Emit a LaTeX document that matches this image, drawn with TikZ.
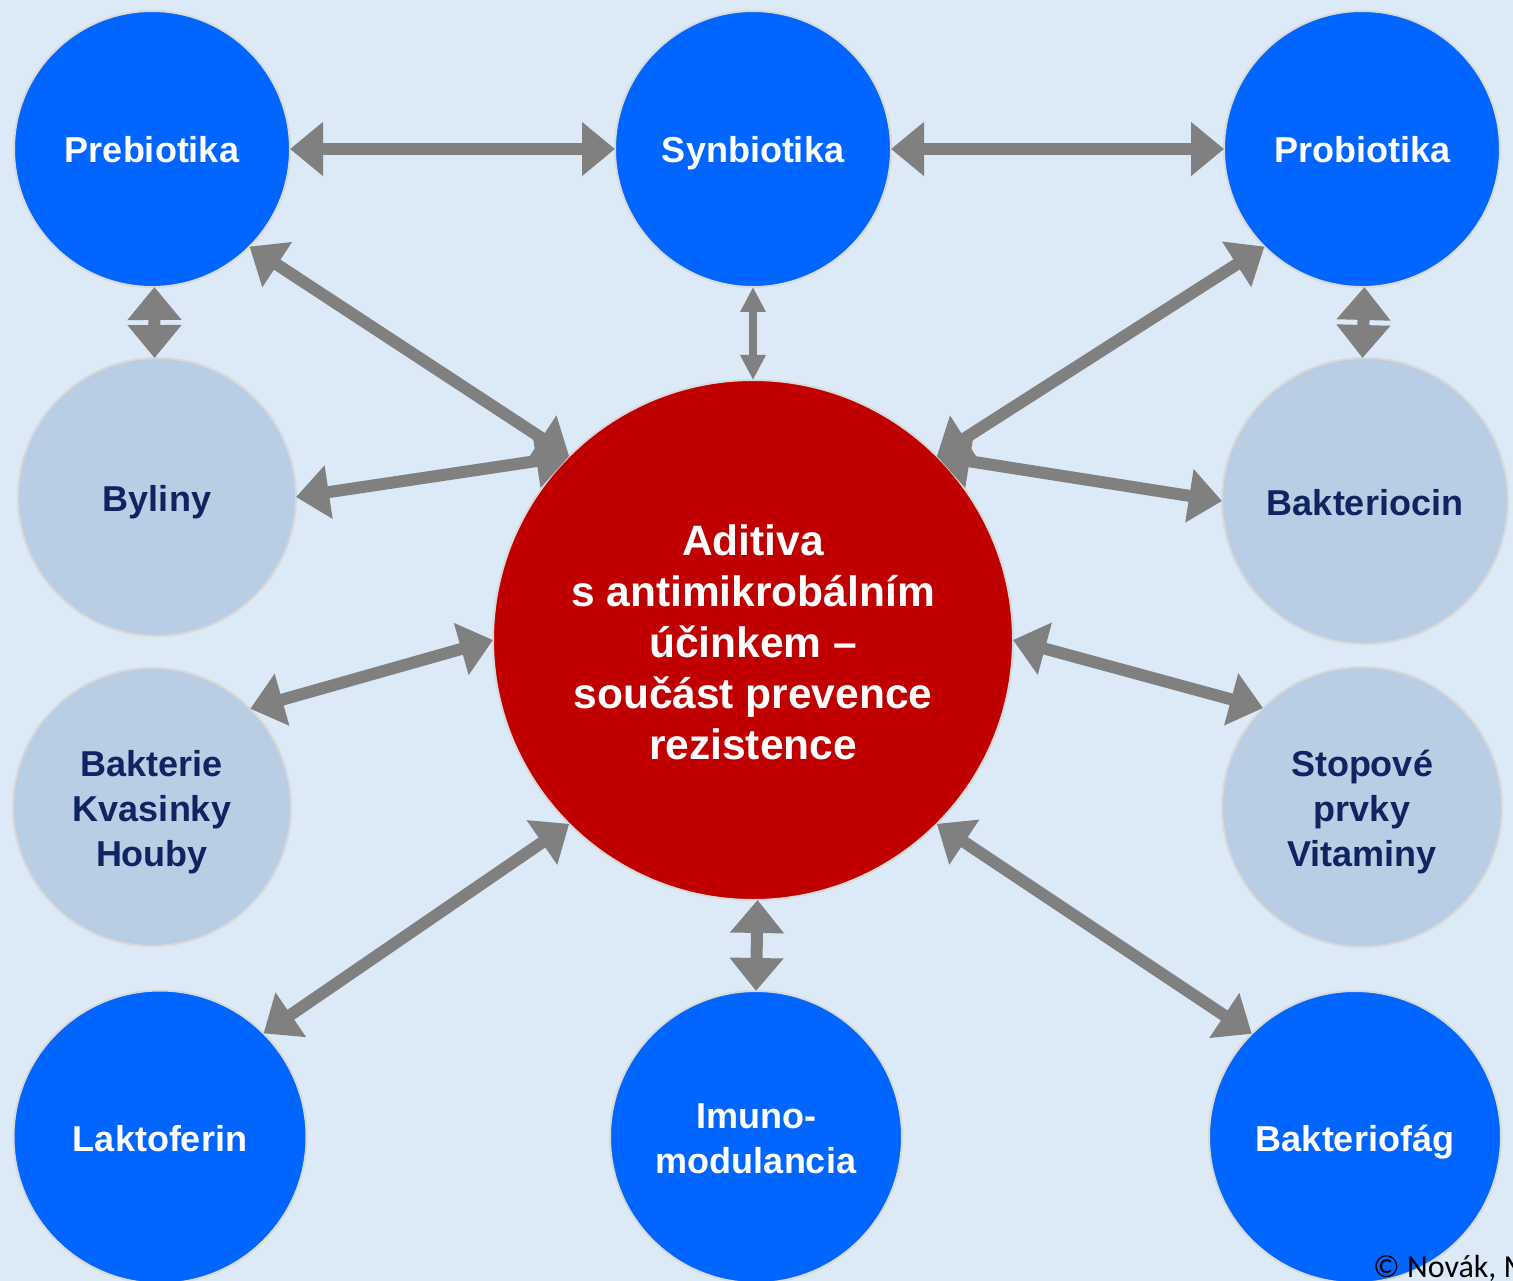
\documentclass[tikz,border=0pt]{standalone}
\usepackage{fontspec}
\setmainfont{Liberation Sans}
\newfontfamily\creditfont{Carlito}
\usetikzlibrary{arrows.meta}
\definecolor{bgblue}{RGB}{220,233,247}
\definecolor{nodeblue}{RGB}{0,102,255}
\definecolor{corered}{RGB}{192,0,0}
\definecolor{palegray}{RGB}{185,205,229}
\definecolor{navytext}{RGB}{15,36,96}
\definecolor{rimgray}{RGB}{217,217,217}
\definecolor{linkgray}{RGB}{128,128,128}

% struts that centre the capitals of a label in its circle
\newcommand\bubblestrut{\rule[-10pt]{0pt}{48pt}}
\newcommand\corestrut{\rule[-10pt]{0pt}{54pt}}

\begin{document}
\begin{tikzpicture}[x=1pt,y=-1pt,
  bubble/.style={circle, draw=rimgray, line width=2pt, inner sep=0pt, outer sep=0pt,
    align=center, font=\fontsize{36}{45}\selectfont\bfseries,
    execute at begin node=\bubblestrut, execute at end node=\bubblestrut},
  bluebubble/.style={bubble, fill=nodeblue, text=white},
  palebubble/.style={bubble, fill=palegray, text=navytext},
  link/.style={draw=linkgray, line width=12pt,
    {Triangle[length=33pt,width=52pt]}-{Triangle[length=33pt,width=52pt]}},
  thinlink/.style={draw=linkgray, line width=8pt,
    {Triangle[length=25pt,width=24pt]}-{Triangle[length=25pt,width=24pt]}},
]
\useasboundingbox (0,0) rectangle (1513,1281);
\fill[bgblue] (0,0) rectangle (1513,1281);
\clip (0,0) rectangle (1513,1281);

% top row
\node[bluebubble, minimum size=276pt] (pre) at (152,149) {Prebiotika};
\node[bluebubble, minimum size=276pt] (syn) at (753,149) {Synbiotika};
\node[bluebubble, minimum size=276pt] (pro) at (1362,149) {Probiotika};

% side circles
\node[palebubble, minimum size=278pt] (byl) at (157,497) {Byliny};
\node[palebubble, minimum size=286pt] (bak) at (1365,501) {Bakteriocin};
\node[palebubble, minimum size=278pt] (bkh) at (152,807) {\bubblestrut Bakterie\\Kvasinky\\Houby};
\node[palebubble, minimum size=280pt] (stv) at (1362,807) {\bubblestrut Stopové\\prvky\\Vitaminy};

% bottom row
\node[bluebubble, minimum size=293pt] (lak) at (160,1137) {Laktoferin};
\node[bluebubble, minimum size=292pt] (imu) at (756,1137) {\bubblestrut Imuno-\\modulancia};
\node[bluebubble, minimum size=292pt] (fag) at (1355,1137) {Bakteriofág};

% central circle
\node[bubble, fill=corered, text=white, minimum size=520pt,
  font=\fontsize{42.5}{51}\selectfont\bfseries,
  execute at begin node=\corestrut, execute at end node=\corestrut] (core) at (753,640)
  {\corestrut Aditiva\\s antimikrobálním\\účinkem –\\součást prevence\\rezistence};

% connectors
\draw[link] (pre.east) -- (syn.west);
\draw[link] (syn.east) -- (pro.west);
\draw[link] (pre.-89) -- (byl.91);
\draw[link] (pro.-89) -- (bak.91);
\draw[thinlink] (syn.-90) -- (core.90);
\draw[link] (core.-89.6) -- (imu.90.5);
\draw[link] (pre.-45) -- (core.135);
\draw[link] (byl.0) -- (core.135);
\draw[link] (pro.225) -- (core.45);
\draw[link] (bak.180) -- (core.45);
\draw[link] (bkh.45) -- (core.180);
\draw[link] (stv.135) -- (core.0);
\draw[link] (lak.45) -- (core.225);
\draw[link] (fag.135) -- (core.-45);

% credit line
\node[anchor=base west, inner sep=0pt, text=black,
  font=\creditfont\fontsize{32}{38}\selectfont] (credit) at (1373,1277) {© Novák, M.};
\end{tikzpicture}
\end{document}
